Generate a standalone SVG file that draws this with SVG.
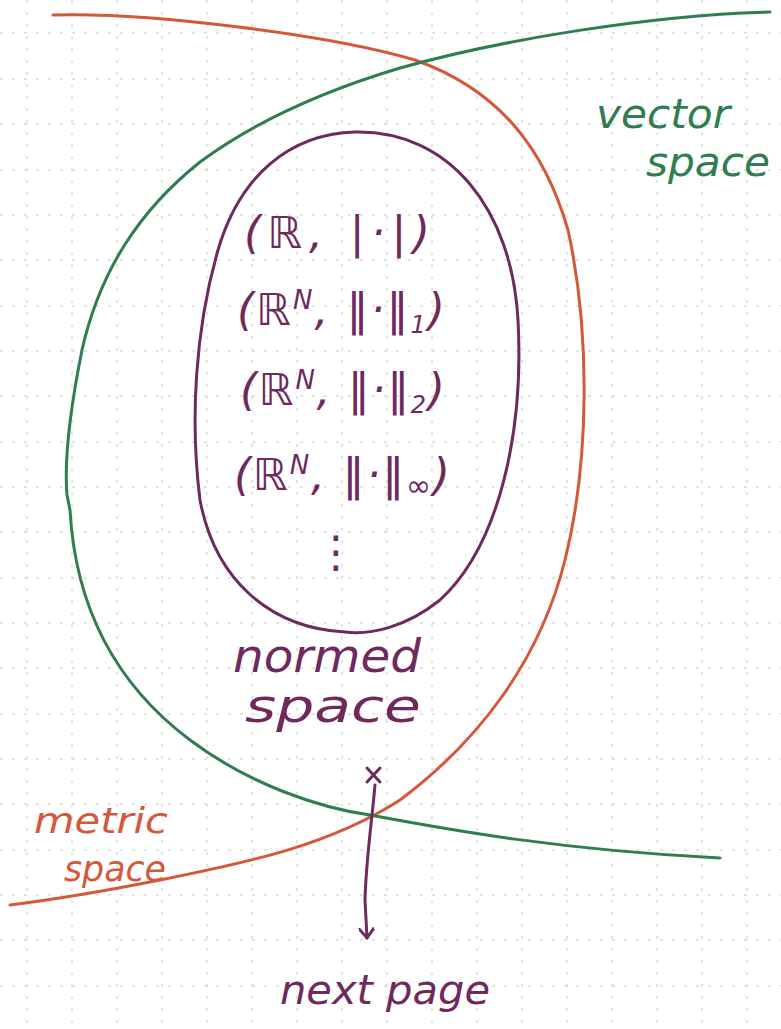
<svg xmlns="http://www.w3.org/2000/svg" width="781" height="1029" viewBox="0 0 781 1029">
<style>
.grid line{stroke:#c9c9c9;stroke-width:1;stroke-dasharray:3 9}
.curve{fill:none;stroke-width:3;stroke-linecap:round;stroke-linejoin:round}
.red{stroke:#d4583a}
.green{stroke:#2f7d50}
.purple{stroke:#6e2a5c}
text{font-family:"DejaVu Sans","Liberation Sans",sans-serif;font-style:italic}
.pt{fill:#6e2a5c}
.gt{fill:#2f7d50}
.rt{fill:#d4583a}
.f{font-size:44px}
.l{font-size:40px}
.n{font-size:46px}
.s{font-size:36px}
</style>
<defs>
<marker id="ah" markerWidth="16" markerHeight="16" refX="12" refY="8" orient="auto" markerUnits="userSpaceOnUse">
<path d="M3,1 L12,8 L3,15" fill="none" stroke="#6e2a5c" stroke-width="3" stroke-linecap="round" stroke-linejoin="round"/>
</marker>
</defs>
<rect width="781" height="1029" fill="#ffffff"/>
<g class="grid">
<line x1="27" y1="0" x2="27" y2="1029"/><line x1="72" y1="0" x2="72" y2="1029"/><line x1="117" y1="0" x2="117" y2="1029"/><line x1="162" y1="0" x2="162" y2="1029"/><line x1="207" y1="0" x2="207" y2="1029"/><line x1="252" y1="0" x2="252" y2="1029"/><line x1="297" y1="0" x2="297" y2="1029"/><line x1="342" y1="0" x2="342" y2="1029"/><line x1="387" y1="0" x2="387" y2="1029"/><line x1="432" y1="0" x2="432" y2="1029"/><line x1="477" y1="0" x2="477" y2="1029"/><line x1="522" y1="0" x2="522" y2="1029"/><line x1="567" y1="0" x2="567" y2="1029"/><line x1="612" y1="0" x2="612" y2="1029"/><line x1="657" y1="0" x2="657" y2="1029"/><line x1="702" y1="0" x2="702" y2="1029"/><line x1="747" y1="0" x2="747" y2="1029"/>
<line x1="0" y1="33" x2="781" y2="33"/><line x1="0" y1="79" x2="781" y2="79"/><line x1="0" y1="124" x2="781" y2="124"/><line x1="0" y1="170" x2="781" y2="170"/><line x1="0" y1="215" x2="781" y2="215"/><line x1="0" y1="260" x2="781" y2="260"/><line x1="0" y1="306" x2="781" y2="306"/><line x1="0" y1="351" x2="781" y2="351"/><line x1="0" y1="396" x2="781" y2="396"/><line x1="0" y1="442" x2="781" y2="442"/><line x1="0" y1="487" x2="781" y2="487"/><line x1="0" y1="532" x2="781" y2="532"/><line x1="0" y1="578" x2="781" y2="578"/><line x1="0" y1="623" x2="781" y2="623"/><line x1="0" y1="668" x2="781" y2="668"/><line x1="0" y1="714" x2="781" y2="714"/><line x1="0" y1="759" x2="781" y2="759"/><line x1="0" y1="804" x2="781" y2="804"/><line x1="0" y1="850" x2="781" y2="850"/><line x1="0" y1="895" x2="781" y2="895"/><line x1="0" y1="940" x2="781" y2="940"/><line x1="0" y1="986" x2="781" y2="986"/>
</g>
<g id="metric-space">
<path class="curve red" d="M53,15 C150,12 330,35 415,60 C500,90 545,150 568,230 C590,330 590,460 565,560 C540,660 480,740 400,800 C330,845 250,862 160,880 C100,892 50,900 10,905"/>
<text class="rt s" x="34" y="833" textLength="134" lengthAdjust="spacingAndGlyphs">metric</text>
<text class="rt s" x="64" y="881" textLength="102" lengthAdjust="spacingAndGlyphs">space</text>
</g>
<g id="vector-space">
<path class="curve green" d="M770,12 C650,15 500,40 400,68 C320,92 250,125 200,162 C140,210 100,270 82,350 C70,410 64,460 67,495 L70,510 C75,600 110,680 190,740 C250,785 320,808 370,815 C450,830 560,850 720,858"/>
<text class="gt l" x="596" y="128" textLength="134" lengthAdjust="spacingAndGlyphs">vector</text>
<text class="gt l" x="646" y="176" textLength="124" lengthAdjust="spacingAndGlyphs">space</text>
</g>
<g id="normed-space">
<path class="curve purple" d="M355,132 C450,130 512,210 518,320 C524,430 500,545 440,600 C405,628 370,635 345,632 C270,628 215,580 200,500 C190,420 195,330 218,250 C240,175 290,134 355,132 Z"/>
<text class="pt f" x="244" y="248" textLength="186" lengthAdjust="spacing">(ℝ, |·|)</text>
<text class="pt f" x="237" y="325" textLength="208" lengthAdjust="spacing">(ℝ<tspan dy="-16" font-size="26">N</tspan><tspan dy="16">, ‖·‖</tspan><tspan dy="8" font-size="24">1</tspan><tspan dy="-8">)</tspan></text>
<text class="pt f" x="240" y="405" textLength="205" lengthAdjust="spacing">(ℝ<tspan dy="-16" font-size="26">N</tspan><tspan dy="16">, ‖·‖</tspan><tspan dy="8" font-size="24">2</tspan><tspan dy="-8">)</tspan></text>
<text class="pt f" x="234" y="490" textLength="216" lengthAdjust="spacing">(ℝ<tspan dy="-16" font-size="26">N</tspan><tspan dy="16">, ‖·‖</tspan><tspan dy="6" font-size="30">∞</tspan><tspan dy="-6">)</tspan></text>
<text class="pt f" x="314" y="567">⋮</text>
<text class="pt n" x="233" y="672" textLength="188" lengthAdjust="spacingAndGlyphs">normed</text>
<text class="pt n" x="245" y="722" textLength="176" lengthAdjust="spacingAndGlyphs">space</text>
</g>
<g id="next-page">
<text class="pt l" x="280" y="1004" textLength="210" lengthAdjust="spacingAndGlyphs">next page</text>
</g>
<g id="connectors">
<path d="M367,768 L380,782 M380,768 L367,782" fill="none" stroke="#6e2a5c" stroke-width="3" stroke-linecap="round"/>
<path class="curve purple" d="M375,785 C372,820 366,860 365,900 L367,938" marker-end="url(#ah)"/>
</g>
</svg>
